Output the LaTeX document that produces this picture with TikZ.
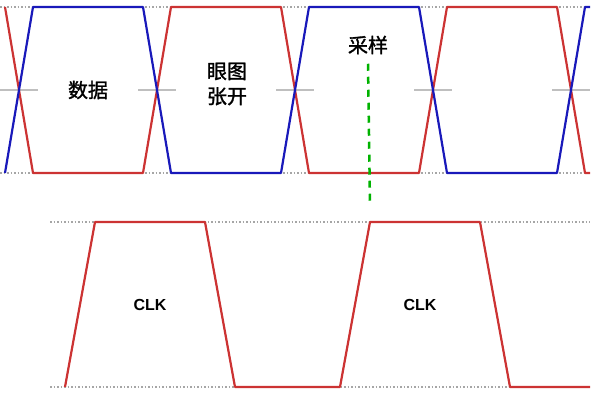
\documentclass[tikz,border=0pt]{standalone}
\usepackage{fontspec}
\setmainfont{Liberation Sans}
\newfontfamily\cjk[FakeBold=1.5]{Noto Sans CJK SC}
\begin{document}
\begin{tikzpicture}[x=1pt,y=-1pt,
  grid/.style={gray!70,line width=1.5pt,dotted},
  redw/.style={red!75!black!80,line width=2.2pt,line join=round},
  bluew/.style={blue!70!black!90,line width=2.2pt,line join=round},
  lbl/.style={font=\cjk\fontsize{20}{25}\selectfont,align=center},
  clk/.style={font=\bfseries\fontsize{16}{18}\selectfont}]
\useasboundingbox (0,0) rectangle (603,406);
\foreach \a in {5,143,281,419,557}{
  \draw[grid] (\a-5,7) -- (\a+33,7);
  \draw[grid] (\a-5,173) -- (\a+33,173);
  \draw[gray!50,line width=1.2pt] (\a-5,90) -- (\a+33,90);
}
\draw[redw] (5,7) -- (33,173) -- (143,173) -- (171,7) -- (281,7) -- (309,173) -- (419,173) -- (447,7) -- (557,7) -- (585,173) -- (590,173);
\draw[bluew] (5,173) -- (33,7) -- (143,7) -- (171,173) -- (281,173) -- (309,7) -- (419,7) -- (447,173) -- (557,173) -- (585,7) -- (590,7);
\node[lbl] (d) at (88,90) {数据};
\node[lbl] (e) at (227,84) {眼图\\张开};
\node[lbl] (s) at (368,45) {采样};
\draw[grid] (50,222) -- (590,222);
\draw[grid] (50,387) -- (590,387);
\draw[redw] (65,387) -- (95,222) -- (205,222) -- (235,387) -- (340,387) -- (370,222) -- (480,222) -- (510,387) -- (590,387);
\coordinate (g1) at (370,205);
\draw[green!70!black,line width=2.5pt,dash pattern=on 7pt off 6pt] (s.south) ++(0,6) -- (g1);
\node[clk] (c1) at (150,305) {CLK};
\node[clk] (c2) at (420,305) {CLK};
\end{tikzpicture}
\end{document}
